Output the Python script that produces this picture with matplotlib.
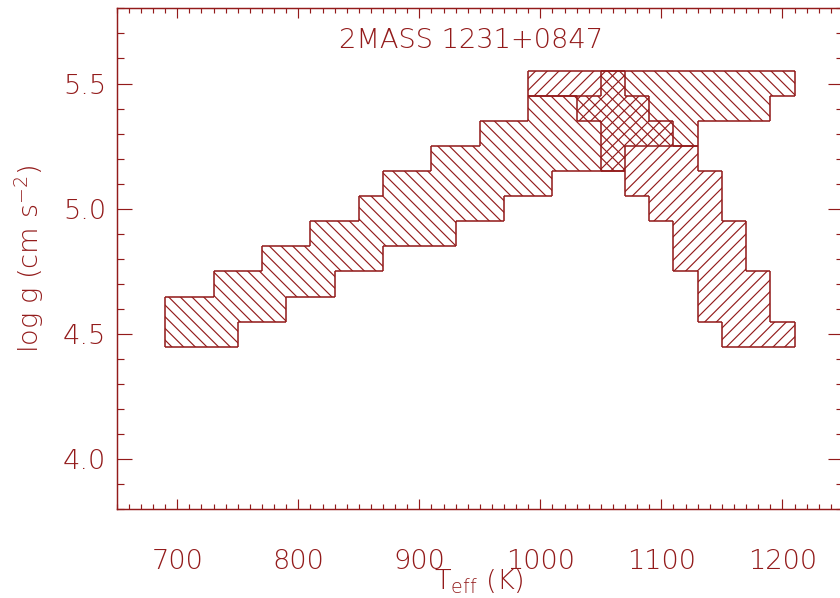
import matplotlib
matplotlib.use("Agg")
import matplotlib.pyplot as plt
from matplotlib.collections import LineCollection
from matplotlib.ticker import MultipleLocator, FormatStrFormatter

# model grid: rows of log g, each row holds a run of Teff cells (cell centres)
logg = [4.5, 4.6, 4.7, 4.8, 4.9, 5.0, 5.1, 5.2, 5.3, 5.4, 5.5]
a_tmin = [700, 700, 740, 780, 820, 860, 880, 920, 960, 1000, 1060]
a_tmax = [740, 780, 820, 860, 920, 960, 1000, 1060, 1120, 1180, 1200]
b_tmin = [1160, 1140, 1140, 1120, 1120, 1100, 1080, 1060, 1060, 1040, 1000]
b_tmax = [1200, 1180, 1180, 1160, 1160, 1140, 1140, 1120, 1100, 1080, 1060]
dT = 20
dg = 0.1

title = "2MASS 1231+0847"
color = "#931b1b"

plt.rcParams.update({
    "font.family": ["DejaVu Sans"],
    "font.weight": "light",
    "font.size": 28,
    "hatch.linewidth": 1.2,
    "mathtext.default": "regular",
})

dpi = 70
fig = plt.figure(figsize=(840 / dpi, 598 / dpi), dpi=dpi)
ax = fig.add_axes([0.139, 0.148, 0.8645, 0.838])


def region(tmin, tmax, hatch):
    # hatched cells, no edges
    for g, t0, t1 in zip(logg, tmin, tmax):
        ax.barh(g, t1 - t0 + dT, left=t0 - dT / 2, height=dg, hatch=hatch,
                facecolor="none", edgecolor=color, linewidth=0)
    # outline of the union of cells
    cells = set()
    for i, (t0, t1) in enumerate(zip(tmin, tmax)):
        for t in range(t0, t1 + 1, dT):
            cells.add((i, t))
    segs = []
    for i, t in cells:
        g = logg[i]
        x0, x1 = t - dT / 2, t + dT / 2
        y0, y1 = g - dg / 2, g + dg / 2
        if (i, t - dT) not in cells:
            segs.append([(x0, y0), (x0, y1)])
        if (i, t + dT) not in cells:
            segs.append([(x1, y0), (x1, y1)])
        if (i - 1, t) not in cells:
            segs.append([(x0, y0), (x1, y0)])
        if (i + 1, t) not in cells:
            segs.append([(x0, y1), (x1, y1)])
    ax.add_collection(LineCollection(segs, colors=color, linewidths=1.6))


region(a_tmin, a_tmax, "\\\\")
region(b_tmin, b_tmax, "//")

ax.set_xlim(650, 1250)
ax.set_ylim(3.8, 5.8)

ax.xaxis.set_major_locator(MultipleLocator(100))
ax.xaxis.set_minor_locator(MultipleLocator(10))
ax.yaxis.set_major_locator(MultipleLocator(0.5))
ax.yaxis.set_minor_locator(MultipleLocator(0.1))
ax.yaxis.set_major_formatter(FormatStrFormatter("%.1f"))

ax.tick_params(which="both", direction="in", top=True, right=True,
               colors=color, width=1.2)
ax.tick_params(axis="x", which="major", length=10.3, pad=41)
ax.tick_params(axis="x", which="minor", length=5.1)
ax.tick_params(axis="y", which="major", length=15.4, pad=11)
ax.tick_params(axis="y", which="minor", length=7.7)
for s in ax.spines.values():
    s.set_color(color)
    s.set_linewidth(1.5)

ax.text(943, 5.673, title, ha="center", va="center", color=color)
fig.text(479 / 840, 1 - 589 / 598, r"T$_{\rm eff}$ (K)", ha="center",
         va="baseline", color=color)
fig.text(29 / 840, 1 - 259 / 598, r"log g (cm s$^{-2}$)", rotation=90,
         ha="center", va="center", color=color)

fig.savefig("out.png", dpi=dpi)
